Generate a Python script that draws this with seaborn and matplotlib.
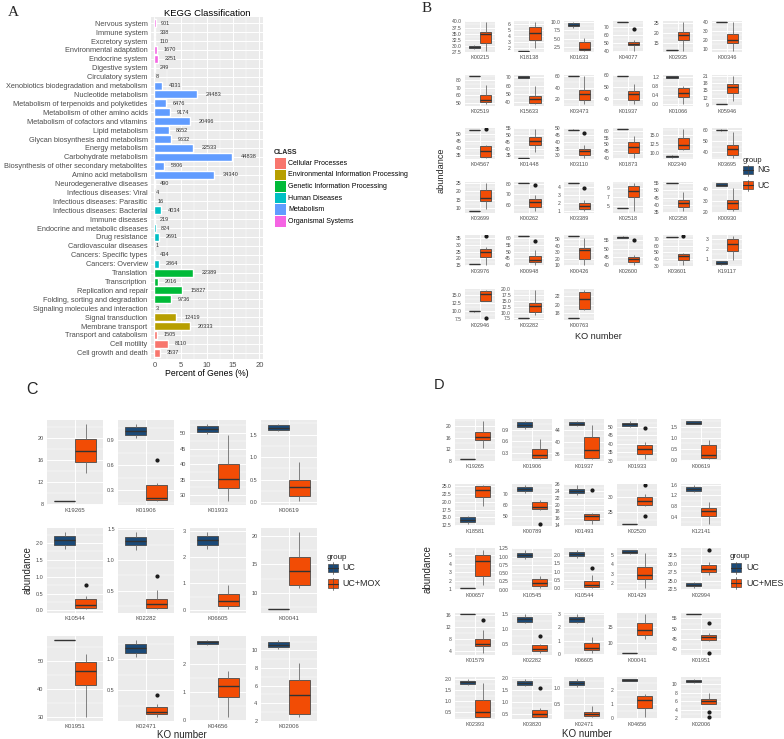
import matplotlib
matplotlib.use('Agg')
import matplotlib.pyplot as plt
from matplotlib.patches import Rectangle
from matplotlib.lines import Line2D
import numpy as np
import pandas as pd
import seaborn as sns

sns.set_theme(style='darkgrid')
plt.rcParams['font.family'] = ['Liberation Sans', 'DejaVu Sans']

W, H = 784, 739

# ---------------- panel A: KEGG classification ----------------
kegg_terms = ['Nervous system', 'Immune system', 'Excretory system', 'Environmental adaptation',
              'Endocrine system', 'Digestive system', 'Circulatory system',
              'Xenobiotics biodegradation and metabolism', 'Nucleotide metabolism',
              'Metabolism of terpenoids and polyketides', 'Metabolism of other amino acids',
              'Metabolism of cofactors and vitamins', 'Lipid metabolism',
              'Glycan biosynthesis and metabolism', 'Energy metabolism', 'Carbohydrate metabolism',
              'Biosynthesis of other secondary metabolites', 'Amino acid metabolism',
              'Neurodegenerative diseases', 'Infectious diseases: Viral',
              'Infectious diseases: Parasitic', 'Infectious diseases: Bacterial', 'Immune diseases',
              'Endocrine and metabolic diseases', 'Drug resistance', 'Cardiovascular diseases',
              'Cancers: Specific types', 'Cancers: Overview', 'Translation', 'Transcription',
              'Replication and repair', 'Folding, sorting and degradation',
              'Signaling molecules and interaction', 'Signal transduction', 'Membrane transport',
              'Transport and catabolism', 'Cell motility', 'Cell growth and death']
kegg_counts = [901, 338, 110, 1670, 2251, 249, 8,
               4331, 24483, 6476, 9174, 20496, 8652, 9632, 22533, 44838, 5806, 34340,
               490, 4, 16, 4034, 219, 824, 2691, 1, 434, 2864,
               22389, 2016, 15827, 9736,
               3, 12419, 20333,
               1505, 8110, 3537]
kegg_class = (['Organismal Systems'] * 7 + ['Metabolism'] * 11 + ['Human Diseases'] * 10
              + ['Genetic Information Processing'] * 4
              + ['Environmental Information Processing'] * 3 + ['Cellular Processes'] * 3)
class_names = ['Cellular Processes', 'Environmental Information Processing',
               'Genetic Information Processing', 'Human Diseases', 'Metabolism',
               'Organismal Systems']
class_colors = ['#F8766D', '#B79F00', '#00BA38', '#00BFC4', '#619CFF', '#F564E3']

# ---------------- box panels: [low whisker, Q1, median, Q3, high whisker, *outliers] ----------------
B_kos = ['K00215', 'K18138', 'K01633', 'K04077', 'K02935', 'K00346',
         'K02519', 'K15633', 'K03473', 'K01937', 'K01066', 'K05946',
         'K04567', 'K01448', 'K03110', 'K01873', 'K02340', 'K03695',
         'K03699', 'K00262', 'K03389', 'K02518', 'K02358', 'K00930',
         'K03976', 'K00948', 'K00426', 'K02600', 'K03601', 'K19117',
         'K02946', 'K03282', 'K00763']
B_ng = [[28.8, 29.0, 29.5, 30.0, 30.2], [1.5] * 5, [8.2, 8.6, 9.1, 9.5, 9.8], [75.5] * 5,
        [11.5] * 5, [40.0] * 5,
        [85.5] * 5, [68.5, 69.0, 70.0, 71.0, 71.5], [60.0] * 5, [59.5] * 5,
        [1.14, 1.16, 1.19, 1.22, 1.24], [9.4] * 5,
        [52.7] * 5, [33.3] * 5, [48.5, 48.6, 48.8, 49.0, 49.1], [61.5] * 5,
        [8.8, 8.9, 9.1, 9.3, 9.4], [59.5, 59.7, 60.0, 60.3, 60.5],
        [8.4] * 5, [81.3] * 5, [4.45] * 5, [4.45] * 5, [55.2] * 5, [42.5, 43.0, 44.0, 45.0, 45.5],
        [15.7] * 5, [61.2] * 5, [54.8] * 5, [56.3, 56.5, 56.9, 57.3, 57.5], [73.0] * 5,
        [0.5, 0.57, 0.67, 0.84, 0.9],
        [9.7, 9.8, 9.9, 10.0, 10.0], [7.65] * 5, [16.85] * 5]
B_uc = [[28.0, 31.0, 34.8, 35.8, 39.6], [1.95, 3.3, 4.5, 5.5, 6.35], [1.4, 1.7, 2.0, 4.0, 5.3],
        [41.0, 47.5, 49.5, 52.0, 53.5, 68.0], [11.0, 16.4, 18.9, 20.6, 25.5],
        [7.7, 16.0, 20.0, 27.0, 40.0],
        [48.0, 51.0, 54.0, 60.0, 73.0], [38.0, 39.0, 44.5, 47.5, 60.0],
        [10.0, 17.5, 29.0, 35.5, 61.0], [36.0, 39.0, 44.0, 47.0, 52.7],
        [0.0, 0.32, 0.49, 0.69, 0.78], [10.6, 14.0, 16.3, 17.7, 21.0],
        [33.0, 33.5, 37.5, 41.0, 42.0, 53.0], [37.5, 42.7, 45.3, 48.4, 54.3],
        [28.3, 30.5, 33.0, 34.7, 37.5, 46.4], [40.0, 43.8, 47.7, 52.0, 56.4],
        [10.9, 11.0, 12.3, 14.0, 16.4], [35.0, 37.0, 42.5, 46.0, 58.0],
        [9.6, 14.3, 16.2, 20.5, 24.8], [53.7, 58.0, 62.3, 66.0, 69.3, 79.0],
        [0.96, 1.17, 1.57, 1.96, 2.3, 3.83], [3.8, 6.9, 8.2, 9.4, 10.1],
        [35.5, 38.1, 41.0, 43.5, 48.6], [21.0, 23.0, 28.0, 31.0, 41.5],
        [15.5, 21.2, 25.0, 27.1, 28.3, 36.3], [40.5, 42.2, 44.1, 46.5, 51.0, 57.8],
        [10.5, 19.6, 34.0, 36.7, 51.6], [40.2, 41.5, 43.8, 45.0, 46.0, 55.0],
        [31.5, 37.7, 44.4, 48.0, 49.5, 74.0], [0.93, 1.79, 2.48, 3.03, 3.26],
        [13.0, 13.1, 15.3, 16.2, 16.6, 7.7], [8.8, 10.1, 13.0, 14.2, 19.7],
        [18.7, 19.0, 21.3, 22.9, 23.5]]
B_ticks = [[27.5, 30, 32.5, 35, 37.5, 40], [2, 3, 4, 5, 6], [2.5, 5, 7.5, 10], [40, 50, 60, 70],
           [15, 20, 25], [10, 20, 30, 40],
           [50, 60, 70, 80], [40, 50, 60, 70], [20, 40, 60], [40, 50, 60], [0.0, 0.4, 0.8, 1.2],
           [9, 12, 15, 18, 21],
           [35, 40, 45, 50], [35, 40, 45, 50, 55], [30, 35, 40, 45, 50], [40, 45, 50, 55, 60],
           [10.0, 12.5, 15.0], [40, 50, 60],
           [10, 15, 20, 25], [60, 70, 80], [1, 2, 3, 4], [5, 7, 9], [35, 40, 45, 50, 55],
           [20, 30, 40],
           [15, 20, 25, 30, 35], [40, 45, 50, 55, 60], [10, 20, 30, 40, 50], [40, 45, 50, 55],
           [30, 40, 50, 60, 70], [1, 2, 3],
           [7.5, 10, 12.5, 15], [7.5, 10, 12.5, 15, 17.5, 20], [18, 20, 22, 24]]

C_kos = ['K19265', 'K01906', 'K01933', 'K00619', 'K10544', 'K02282', 'K06605', 'K00041',
         'K01951', 'K02471', 'K04656', 'K02006']
C_uc = [[8.6] * 5, [0.93, 0.97, 1.02, 1.06, 1.1], [49.8, 50.3, 51.4, 52.2, 53.0],
        [1.58, 1.6, 1.65, 1.71, 1.74], [1.83, 1.95, 2.09, 2.2, 2.33],
        [1.17, 1.24, 1.31, 1.38, 1.46], [2.3, 2.46, 2.65, 2.8, 2.95], [7.2] * 5,
        [57.6] * 5, [1.03, 1.1, 1.18, 1.25, 1.31], [2.67, 2.7, 2.75, 2.8, 2.84],
        [10.2, 10.35, 10.6, 10.95, 11.2]]
C_mox = [[13.6, 15.6, 17.6, 19.7, 22.5], [0.17, 0.18, 0.21, 0.365, 0.385, 0.66],
         [28.0, 32.1, 35.2, 40.0, 49.3], [0.02, 0.134, 0.33, 0.5, 0.9],
         [0.04, 0.07, 0.17, 0.33, 0.42, 0.75], [0.2, 0.22, 0.28, 0.37, 0.52, 0.74],
         [0.03, 0.16, 0.34, 0.59, 0.94], [10.9, 11.4, 13.9, 16.3, 20.7],
         [30.0, 41.3, 46.5, 49.6, 52.6], [0.07, 0.12, 0.16, 0.23, 0.28, 0.43],
         [0.1, 0.81, 1.19, 1.5, 1.74], [2.4, 2.8, 4.9, 6.6, 8.6]]
C_ticks = [[8, 12, 16, 20], [0.3, 0.6, 0.9], [30, 35, 40, 45, 50], [0.0, 0.5, 1.0, 1.5],
           [0.0, 0.5, 1.0, 1.5, 2.0], [0.5, 1.0, 1.5], [0, 1, 2, 3], [10, 15, 20],
           [30, 40, 50], [0.5, 1.0], [0, 1, 2], [2, 4, 6, 8, 10]]

D_kos = ['K19265', 'K01906', 'K01937', 'K01933', 'K00619',
         'K18581', 'K00789', 'K01493', 'K02520', 'K12141',
         'K00657', 'K10545', 'K10544', 'K01429', 'K02994',
         'K01579', 'K02282', 'K06605', 'K00041', 'K01951',
         'K02393', 'K03820', 'K02471', 'K04656', 'K02006']
D_uc = [[8.6] * 5, [0.93, 0.97, 1.02, 1.09, 1.13], [45.5, 45.7, 46.3, 46.8, 47.2],
        [50.0, 50.6, 51.6, 52.6, 53.6], [1.6, 1.62, 1.68, 1.74, 1.76],
        [13.0, 13.6, 14.3, 15.0, 15.5], [71.0, 72.4, 74.5, 76.0, 77.6],
        [23.0, 23.4, 24.0, 24.6, 25.7], [21.3] * 5, [1.32, 1.36, 1.43, 1.52, 1.57],
        [1.15] * 5, [0.92, 0.98, 1.06, 1.12, 1.2], [1.8, 1.92, 2.06, 2.22, 2.32],
        [5.2, 5.25, 5.4, 5.55, 5.6], [22.8, 23.4, 23.8, 24.3, 24.5],
        [16.1] * 5, [1.18, 1.23, 1.33, 1.4, 1.48], [2.33, 2.4, 2.63, 2.78, 2.95],
        [6.9] * 5, [57.0] * 5,
        [1.73, 1.77, 1.85, 1.92, 2.0], [1.65, 1.7, 1.8, 1.9, 1.97],
        [1.03, 1.1, 1.18, 1.25, 1.31], [2.64, 2.66, 2.73, 2.78, 2.8],
        [10.3, 10.5, 10.8, 11.1, 11.3]]
D_mes = [[12.4, 15.1, 16.1, 18.0, 21.8], [0.14, 0.18, 0.25, 0.4, 0.65],
         [34.1, 34.6, 37.2, 41.7, 45.9], [31.0, 34.2, 36.8, 39.4, 41.4, 49.4],
         [0.02, 0.08, 0.2, 0.64, 0.91],
         [18.7, 21.5, 23.6, 25.0, 25.2], [55.5, 55.8, 57.9, 62.8, 64.2, 43.0],
         [14.4, 15.5, 16.6, 17.2, 17.5, 24.2], [27.2, 27.6, 28.8, 30.0, 31.1, 33.9, 23.7],
         [0.15, 0.45, 0.6, 0.72, 0.95],
         [1.5, 2.55, 4.3, 5.0, 5.6], [0.05, 0.12, 0.19, 0.33, 0.42],
         [0.0, 0.05, 0.18, 0.45, 0.8, 1.22], [1.4, 2.35, 2.85, 3.7, 5.25],
         [26.5, 27.5, 28.4, 29.6, 30.6, 34.0],
         [3.5, 5.7, 6.5, 8.0, 10.8, 14.2], [0.2, 0.26, 0.33, 0.44, 0.5, 0.75],
         [0.1, 0.3, 0.45, 0.85, 1.28], [11.1, 12.5, 14.1, 16.4, 19.0],
         [43.7, 44.2, 45.6, 46.6, 47.8, 52.8, 38.1],
         [0.28, 0.3, 0.5, 1.05, 1.8], [0.35, 0.37, 0.5, 0.65, 0.72, 1.6],
         [0.06, 0.09, 0.16, 0.23, 0.43], [0.08, 0.71, 1.3, 1.58, 1.72],
         [5.3, 5.5, 6.0, 6.6, 8.0, 3.5, 2.3]]
D_ticks = [[8, 12, 16, 20], [0.3, 0.6, 0.9], [36, 40, 44], [30, 35, 40, 45, 50],
           [0.0, 0.5, 1.0, 1.5],
           [12.5, 15.0, 17.5, 20.0, 22.5, 25.0], [50, 60, 70], [14, 16, 18, 20, 22, 24, 26],
           [25, 30], [0.4, 0.8, 1.2, 1.6],
           [1, 2, 3, 4, 5], [0.0, 0.25, 0.5, 0.75, 1.0, 1.25], [0.0, 0.5, 1.0, 1.5, 2.0],
           [2, 3, 4, 5], [22.5, 25.0, 27.5, 30.0, 32.5],
           [4, 8, 12, 16], [0.5, 1.0, 1.5], [0, 1, 2, 3], [10, 15], [40, 45, 50, 55],
           [0.5, 1.0, 1.5, 2.0], [0.5, 1.0, 1.5, 2.0], [0.5, 1.0], [0, 1, 2],
           [2, 4, 6, 8, 10]]

NAVY = '#1B4A78'
ORANGE = '#F24C05'
EDGE = '#4A4A4A'
TXT = '#4D4D4D'

fig = plt.figure(figsize=(W / 100, H / 100), dpi=100)


def add_ax(left, top, width, height):
    ax = fig.add_axes([left / W, 1 - (top + height) / H, width / W, height / H])
    ax.set_facecolor('#EBEBEB')
    for s in ax.spines.values():
        s.set_visible(False)
    return ax


def ftext(x, y, s, **kw):
    fig.text(x / W, 1 - y / H, s, **kw)


def sample(stats):
    # turn a read five-number summary (+ outliers) into values with exactly those quartiles
    lo, q1, med, q3, hi = stats[:5]
    low = sorted(v for v in stats[5:] if v < q1)
    high = sorted(v for v in stats[5:] if v > q3)
    m = max(len(low), len(high)) + 1
    return (low + [lo] + [q1] * (m - len(low)) + [med] * m + [q3] * m
            + [hi] * (m - len(high)) + high)


def labels(ticks):
    d = max(len(repr(float(t)).split('.')[1].rstrip('0')) for t in ticks)
    return [f'{t:.{d}f}' for t in ticks]


def facet(ax, ko, a, b, ticks, groups, ysize, xsize):
    va, vb = sample(a), sample(b)
    df = pd.DataFrame({'KO': [ko] * (len(va) + len(vb)),
                       'group': [groups[0]] * len(va) + [groups[1]] * len(vb),
                       'value': va + vb})
    sns.boxplot(data=df, x='KO', y='value', hue='group', hue_order=groups,
                palette={groups[0]: NAVY, groups[1]: ORANGE}, width=0.9, saturation=1,
                linecolor=EDGE, linewidth=0.6, fliersize=2.0, showcaps=False,
                flierprops=dict(marker='o', markerfacecolor='#1a1a1a',
                                markeredgecolor='#1a1a1a'),
                medianprops=dict(color='#333333', linewidth=1.0),
                whiskerprops=dict(color='#6e6e6e', linewidth=0.6),
                legend=False, ax=ax)
    ylim = ax.get_ylim()
    ax.set_yticks(ticks)
    ax.set_yticklabels(labels(ticks))
    step = ticks[1] - ticks[0]
    minors = np.arange(ticks[0] - step / 2, ylim[1], step)
    ax.set_yticks([v for v in minors if ylim[0] <= v <= ylim[1]], minor=True)
    ax.set_ylim(ylim)
    ax.set_xlim(-0.6, 0.6)
    ax.set_xlabel('')
    ax.set_ylabel('')
    ax.grid(True, which='major', color='white', linewidth=0.7)
    ax.grid(True, which='minor', axis='y', color='white', linewidth=0.35)
    ax.tick_params(which='major', length=1.5, width=0.5, color='#333333', pad=1)
    ax.tick_params(which='minor', length=0)
    ax.tick_params(axis='y', labelsize=ysize, labelcolor=TXT)
    ax.tick_params(axis='x', labelsize=xsize, labelcolor=TXT)


def box_key(x, y, w, h, color):
    cx = (x + w / 2) / W
    fig.add_artist(Line2D([cx, cx], [1 - y / H, 1 - (y + h) / H], color=EDGE, lw=0.5,
                          transform=fig.transFigure))
    fig.add_artist(Rectangle((x / W, 1 - (y + 0.85 * h) / H), w / W, 0.7 * h / H,
                             facecolor=color, edgecolor=EDGE, lw=0.5,
                             transform=fig.transFigure))
    fig.add_artist(Line2D([x / W, (x + w) / W], [1 - (y + h / 2) / H] * 2, color='#333333',
                          lw=0.8, transform=fig.transFigure))


# ---------------- draw panel A ----------------
total = sum(kegg_counts)
pct = [c / total * 100 for c in kegg_counts]
axA = add_ax(151, 17, 112, 342)
sns.barplot(x=pct, y=kegg_terms, hue=kegg_class, hue_order=class_names,
            palette=dict(zip(class_names, class_colors)), dodge=False, width=0.9,
            saturation=1, legend=False, ax=axA)
for i, (p, c) in enumerate(zip(pct, kegg_counts)):
    off = 0.55 * len(str(c)) * 0.556 * 4.0
    axA.annotate(str(c), xy=(p, i), xytext=(off, 0), textcoords='offset points',
                 ha='left', va='center', fontsize=4.0, color='#333333')
axA.set_xlim(-0.63, 20.67)
axA.set_ylim(37.7, -0.7)
axA.set_xticks([0, 5, 10, 15, 20])
axA.set_xticks([2.5, 7.5, 12.5, 17.5], minor=True)
axA.grid(True, which='major', color='white', linewidth=0.7)
axA.grid(True, which='minor', axis='x', color='white', linewidth=0.35)
axA.tick_params(which='major', length=1.5, width=0.5, color='#333333', pad=1)
axA.tick_params(which='minor', length=0)
axA.tick_params(axis='y', labelsize=5.3, labelcolor=TXT)
axA.tick_params(axis='x', labelsize=5.5, labelcolor=TXT)
axA.set_ylabel('')
axA.set_xlabel('')
ftext(207, 13, 'KEGG Classification', ha='center', va='center', fontsize=6.8, color='black')
ftext(207, 374, 'Percent of Genes (%)', ha='center', va='center', fontsize=6.2, color='black')

ftext(274, 152.5, 'CLASS', ha='left', va='center', fontsize=5.0, fontweight='bold')
for k, (name, col) in enumerate(zip(class_names, class_colors)):
    yc = 163.3 + 11.6 * k
    fig.add_artist(Rectangle((275 / W, 1 - (yc + 5.3) / H), 10.7 / W, 10.6 / H,
                             facecolor=col, edgecolor='none', transform=fig.transFigure))
    ftext(288, yc, name, ha='left', va='center', fontsize=5.0, color='black')

# ---------------- draw panel B ----------------
for i, ko in enumerate(B_kos):
    r, c = divmod(i, 6)
    ax = add_ax(465 + 49.4 * c, 21 + 53.5 * r, 30, 31)
    facet(ax, ko, B_ng[i], B_uc[i], B_ticks[i], ['NG', 'UC'], 3.6, 4.0)
ftext(598, 337, 'KO number', ha='center', va='center', fontsize=6.6)
ftext(441, 170, 'abundance', ha='center', va='center', rotation=90, fontsize=6.6)
ftext(743, 160.5, 'group', ha='left', va='center', fontsize=5.5)
box_key(743, 164.5, 9.7, 11, NAVY)
box_key(743, 179.5, 9.7, 11, ORANGE)
ftext(757, 170, 'NG', ha='left', va='center', fontsize=6.2)
ftext(757, 185, 'UC', ha='left', va='center', fontsize=6.2)

# ---------------- draw panel C ----------------
for i, ko in enumerate(C_kos):
    r, c = divmod(i, 4)
    ax = add_ax(47 + 71.3 * c, 420 + 108 * r, 56, 85)
    facet(ax, ko, C_uc[i], C_mox[i], C_ticks[i], ['UC', 'UC+MOX'], 4.0, 4.3)
ftext(182, 735, 'KO number', ha='center', va='center', fontsize=7.0)
ftext(28, 570, 'abundance', ha='center', va='center', rotation=90, fontsize=7.0)
ftext(327, 557.5, 'group', ha='left', va='center', fontsize=5.8)
box_key(328, 562, 9.5, 12, NAVY)
box_key(328, 577.5, 9.5, 12, ORANGE)
ftext(342, 568, 'UC', ha='left', va='center', fontsize=6.4)
ftext(342, 583.5, 'UC+MOX', ha='left', va='center', fontsize=6.4)

# ---------------- draw panel D ----------------
D_right = [495, 552, 604, 657, 721]
for i, ko in enumerate(D_kos):
    r, c = divmod(i, 5)
    ax = add_ax(D_right[c] - 40, 419 + 64.5 * r, 40, 42)
    facet(ax, ko, D_uc[i], D_mes[i], D_ticks[i], ['UC', 'UC+MES'], 3.6, 4.0)
ftext(587, 734, 'KO number', ha='center', va='center', fontsize=7.0)
ftext(428, 569, 'abundance', ha='center', va='center', rotation=90, fontsize=7.0)
ftext(730, 557, 'group', ha='left', va='center', fontsize=5.8)
box_key(731, 561.5, 9.5, 12, NAVY)
box_key(731, 577, 9.5, 12, ORANGE)
ftext(746, 567.5, 'UC', ha='left', va='center', fontsize=6.4)
ftext(746, 583, 'UC+MES', ha='left', va='center', fontsize=6.4)

# ---------------- panel letters ----------------
ftext(13, 12, 'A', ha='center', va='center', fontsize=11, family=['Liberation Serif'])
ftext(427, 8, 'B', ha='center', va='center', fontsize=11, family=['Liberation Serif'])
ftext(32, 390, 'C', ha='center', va='center', fontsize=11.5)
ftext(439, 385, 'D', ha='center', va='center', fontsize=10.5)

fig.savefig('out.png', dpi=100, facecolor='white')
